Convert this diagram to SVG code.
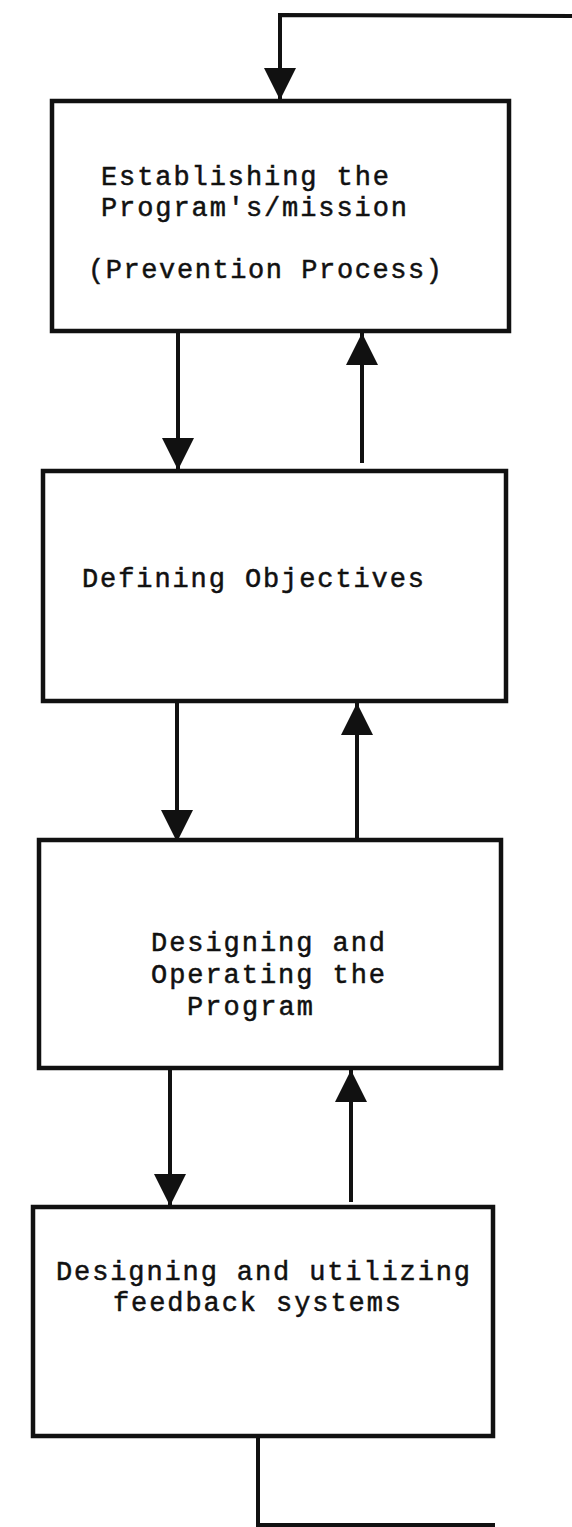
<svg xmlns="http://www.w3.org/2000/svg" width="572" height="1527" viewBox="0 0 572 1527">
  <style>
    .box { fill: #ffffff; stroke: #111111; stroke-width: 4.5; stroke-linejoin: miter; }
    .conn { fill: none; stroke: #111111; stroke-width: 4; stroke-linejoin: miter; }
    .lbl { font-family: "Liberation Mono", "DejaVu Sans Mono", monospace; font-size: 27px; fill: #111111; stroke: #111111; stroke-width: 0.5; }
  </style>
  <defs>
    <marker id="arrow" viewBox="0 0 32 32" refX="32" refY="16" markerWidth="32" markerHeight="32" markerUnits="userSpaceOnUse" orient="auto">
      <path d="M0,0 L32,16 L0,32 Z" fill="#111111"/>
    </marker>
  </defs>
  <rect width="572" height="1527" fill="#ffffff"/>

  <g id="connectors">
    <path class="conn" d="M572,16 L280,15 L280,100" marker-end="url(#arrow)"/>
    <path class="conn" d="M178,332 L178,470" marker-end="url(#arrow)"/>
    <path class="conn" d="M362,463 L362,333" marker-end="url(#arrow)"/>
    <path class="conn" d="M177,701 L177,842" marker-end="url(#arrow)"/>
    <path class="conn" d="M357,838 L357,703" marker-end="url(#arrow)"/>
    <path class="conn" d="M170,1068 L170,1206" marker-end="url(#arrow)"/>
    <path class="conn" d="M351,1202 L351,1070" marker-end="url(#arrow)"/>
    <path class="conn" d="M258,1436 L258,1525 L495,1525"/>
  </g>

  <g id="node-mission">
    <rect class="box" x="52" y="101" width="457" height="230"/>
    <text class="lbl" x="101" y="185" textLength="288" lengthAdjust="spacing">Establishing the</text>
    <text class="lbl" x="101" y="216" textLength="306" lengthAdjust="spacing">Program's/mission</text>
    <text class="lbl" x="88" y="278" textLength="354" lengthAdjust="spacing">(Prevention Process)</text>
  </g>

  <g id="node-objectives">
    <rect class="box" x="43" y="471" width="463" height="230"/>
    <text class="lbl" x="82" y="587" textLength="342" lengthAdjust="spacing">Defining Objectives</text>
  </g>

  <g id="node-operating">
    <rect class="box" x="39" y="840" width="462" height="228"/>
    <text class="lbl" x="151" y="951" textLength="234" lengthAdjust="spacing">Designing and</text>
    <text class="lbl" x="151" y="983" textLength="234" lengthAdjust="spacing">Operating the</text>
    <text class="lbl" x="187" y="1015" textLength="126" lengthAdjust="spacing">Program</text>
  </g>

  <g id="node-feedback">
    <rect class="box" x="33" y="1207" width="460" height="229"/>
    <text class="lbl" x="56" y="1280" textLength="414" lengthAdjust="spacing">Designing and utilizing</text>
    <text class="lbl" x="113" y="1311" textLength="288" lengthAdjust="spacing">feedback systems</text>
  </g>
</svg>
